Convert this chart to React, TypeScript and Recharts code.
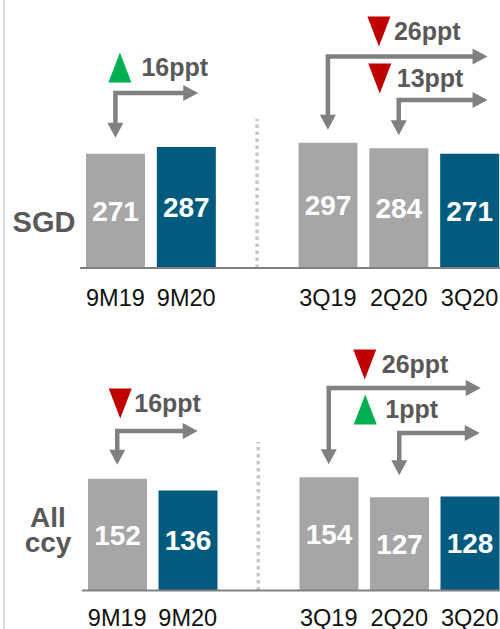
import { BarChart, Bar, XAxis, YAxis, LabelList, ReferenceLine, Cell } from "recharts";

const GAP = "gap";
const categories = ["9M19", "9M20", GAP, "3Q19", "2Q20", "3Q20"];
const sgdValues = [271, 287, null, 297, 284, 271];
const allCcyValues = [152, 136, null, 154, 127, 128];
// current periods are drawn in blue
const isCurrent = [false, true, false, false, false, true];

const sgdChanges = [
  { from: "9M19", to: "9M20", text: "16ppt", dir: "up" },
  { from: "3Q19", to: "3Q20", text: "26ppt", dir: "down" },
  { from: "2Q20", to: "3Q20", text: "13ppt", dir: "down" },
];
const allCcyChanges = [
  { from: "9M19", to: "9M20", text: "16ppt", dir: "down" },
  { from: "3Q19", to: "3Q20", text: "26ppt", dir: "down" },
  { from: "2Q20", to: "3Q20", text: "1ppt", dir: "up" },
];

// arrow placement (px inside each chart)
const sgdArrowLayout = [
  { lineY: 93, tipGap: 16, overshoot: 12, triDx: 4.5, textDx: 26, textDy: -17 },
  { lineY: 56.5, tipGap: 13, overshoot: 18, triDx: 51, textDx: 66, textDy: -16.5 },
  { lineY: 100, tipGap: 13, overshoot: 18, triDx: -19, textDx: -2, textDy: -13 },
];
const allCcyArrowLayout = [
  { lineY: 111, tipGap: 14, overshoot: 10, triDx: 3, textDx: 17, textDy: -19 },
  { lineY: 68, tipGap: 13, overshoot: 11, triDx: 36, textDx: 53, textDy: -15 },
  { lineY: 113, tipGap: 22, overshoot: 10, triDx: -34, textDx: -14, textDy: -15 },
];

const FONT = "'Liberation Sans', Arial, sans-serif";
const GREY = "#a6a6a6";
const BLUE = "#025b7e";
const ARROW = "#808080";
const UP = "#00b050";
const DOWN = "#c00000";

type Change = { from: string; to: string; text: string; dir: string };
type Lay = {
  lineY: number;
  tipGap: number;
  overshoot: number;
  triDx: number;
  textDx: number;
  textDy: number;
};

function Elbow(props: any) {
  const { x1, y1, x2, change, lay } = props as {
    x1: number;
    y1: number;
    x2: number;
    change: Change;
    lay: Lay;
  };
  const ly = lay.lineY;
  const tipY = y1 - lay.tipGap;
  const endX = x2 + lay.overshoot;
  const head = 15;
  const half = 8;
  const tx = x1 + lay.triDx;
  const base = ly + lay.textDy;
  const triTop = base - 23.5;
  const triBot = base + 6.5;
  const tri =
    change.dir === "up"
      ? `${tx - 11.5},${triBot} ${tx + 11.5},${triBot} ${tx},${triTop}`
      : `${tx - 11.5},${triTop} ${tx + 11.5},${triTop} ${tx},${triBot}`;
  return (
    <g>
      <path
        d={`M${x1},${tipY - head + 1} V${ly} H${endX - head + 1}`}
        stroke={ARROW}
        strokeWidth={4.5}
        fill="none"
      />
      <polygon
        points={`${x1 - half},${tipY - head} ${x1 + half},${tipY - head} ${x1},${tipY}`}
        fill={ARROW}
      />
      <polygon
        points={`${endX - head},${ly - half} ${endX - head},${ly + half} ${endX},${ly}`}
        fill={ARROW}
      />
      <polygon points={tri} fill={change.dir === "up" ? UP : DOWN} />
      <text
        x={x1 + lay.textDx}
        y={base}
        fontSize={25}
        fontWeight="bold"
        fill="#595959"
        fontFamily={FONT}
      >
        {change.text}
      </text>
    </g>
  );
}

function Panel({
  values,
  changes,
  layout,
  top,
  height,
  plotBottom,
  left,
  yMax,
  sepTop,
  tickMargin,
}: {
  values: (number | null)[];
  changes: Change[];
  layout: Lay[];
  top: number;
  height: number;
  plotBottom: number;
  left: number;
  yMax: number;
  sepTop: number;
  tickMargin: number;
}) {
  const data = categories.map((c, i) => ({ name: c, value: values[i] }));
  const valueOf = (c: string) => values[categories.indexOf(c)] as number;
  return (
    <div style={{ position: "absolute", left: 0, top }}>
      <BarChart
        width={505}
        height={height}
        data={data}
        margin={{ top: 0, right: 0, bottom: 0, left }}
        barSize={59}
      >
        <XAxis
          dataKey="name"
          interval={0}
          height={height - plotBottom}
          tickLine={false}
          tickMargin={tickMargin}
          axisLine={{ stroke: "#808080", strokeWidth: 2 }}
          tick={{ fill: "#111", fontSize: 23.5, fontFamily: FONT }}
          tickFormatter={(v) => (v === GAP ? "" : v)}
        />
        <YAxis hide domain={[0, yMax]} />
        <ReferenceLine
          segment={[
            { x: GAP, y: 0 },
            { x: GAP, y: sepTop },
          ]}
          stroke="#c8c8c8"
          strokeWidth={3.5}
          strokeDasharray="3.5 3.5"
          ifOverflow="visible"
        />
        <Bar dataKey="value" isAnimationActive={false}>
          {data.map((d, i) => (
            <Cell key={d.name} fill={isCurrent[i] ? BLUE : GREY} />
          ))}
          <LabelList
            dataKey="value"
            position="center"
            fill="#fff"
            fontSize={28}
            fontWeight="bold"
            fontFamily={FONT}
          />
        </Bar>
        {changes.map((c, i) => (
          <ReferenceLine
            key={c.text + i}
            segment={[
              { x: c.from, y: valueOf(c.from) },
              { x: c.to, y: valueOf(c.to) },
            ]}
            ifOverflow="visible"
            shape={(p: any) => <Elbow {...p} change={c} lay={layout[i]} />}
          />
        ))}
      </BarChart>
    </div>
  );
}

export default function App() {
  return (
    <div
      style={{
        position: "absolute",
        left: 0,
        top: 0,
        width: 500,
        height: 629,
        overflow: "hidden",
        background: "#fff",
      }}
    >
      <Panel
        values={sgdValues}
        changes={sgdChanges}
        layout={sgdArrowLayout}
        top={0}
        height={310}
        plotBottom={268}
        left={80}
        yMax={636}
        sepTop={354}
        tickMargin={15}
      />
      <Panel
        values={allCcyValues}
        changes={allCcyChanges}
        layout={allCcyArrowLayout}
        top={320}
        height={309}
        plotBottom={270.5}
        left={82}
        yMax={368}
        sepTop={202}
        tickMargin={13}
      />
      <svg
        width={500}
        height={629}
        style={{ position: "absolute", left: 0, top: 0, pointerEvents: "none" }}
      >
        <line x1={4} y1={0} x2={4} y2={629} stroke="#dedede" strokeWidth={2} />
        <g fontFamily={FONT} fontWeight="bold" fill="#595959" textAnchor="middle">
          <text x={44} y={232} fontSize={29}>
            SGD
          </text>
          <text x={48} y={527} fontSize={28}>
            All
          </text>
          <text x={48} y={552} fontSize={28}>
            ccy
          </text>
        </g>
      </svg>
    </div>
  );
}
